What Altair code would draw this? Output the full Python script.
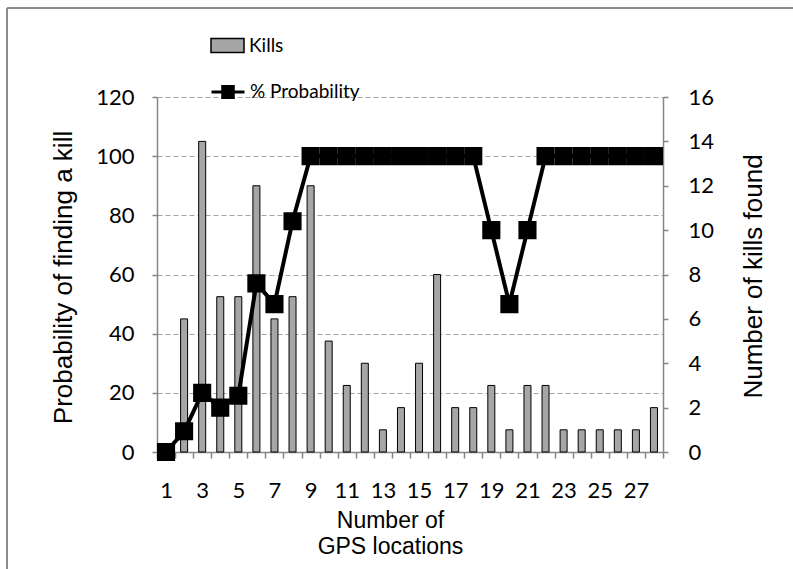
import altair as alt
import pandas as pd

gps = list(range(1, 29))
kills = [0, 6, 14, 7, 7, 12, 6, 7, 12, 5, 3, 4, 1, 2, 4, 8, 2, 2, 3, 1, 3, 3, 1, 1, 1, 1, 1, 2]
prob = [0, 7, 20, 15, 19, 57, 50, 78, 100, 100, 100, 100, 100, 100, 100, 100, 100, 100,
        75, 50, 75, 100, 100, 100, 100, 100, 100, 100]

df = pd.DataFrame({"gps": gps, "kills": kills, "prob": prob,
                   "s1": ["Kills"] * 28, "s2": ["% Probability"] * 28})

TICKF = "Lato"
TITLEF = "Liberation Sans"
AXC = "#868686"

xenc = alt.X("gps:O",
             scale=alt.Scale(paddingInner=0, paddingOuter=0),
             axis=alt.Axis(title=["Number of", "GPS locations"], labelAngle=0,
                           labelExpr="datum.value % 2 == 1 ? datum.label : ''",
                           tickBand="extent", labelFont=TICKF, labelFontSize=22,
                           labelPadding=22, tickSize=6, tickColor=AXC, domainColor=AXC,
                           domainWidth=1.5, tickWidth=1.5,
                           titleFont=TITLEF, titleFontSize=23, titleFontWeight="normal",
                           titleLineHeight=26, titleX=233, titleY=57, titleBaseline="top",
                           grid=False))

bars = alt.Chart(df).mark_bar(size=7, stroke="black", strokeWidth=1).encode(
    x=xenc,
    y=alt.Y("kills:Q", scale=alt.Scale(domain=[0, 16], nice=False),
            axis=alt.Axis(orient="right", values=list(range(0, 17, 2)), title="Number of kills found",
                          labelFont=TICKF, labelFontSize=22, labelPadding=20, tickSize=5,
                          tickColor=AXC, domainColor=AXC, domainWidth=1.5, tickWidth=1.5,
                          titleFont=TITLEF, titleFontSize=26, titleFontWeight="normal",
                          titleAngle=-90, titleX=90, titleY=179, titleAlign="center",
                          titleBaseline="middle", grid=False)),
    fill=alt.Fill("s1:N", scale=alt.Scale(range=["#a6a6a6"]),
                  legend=alt.Legend(title=None, orient="none", legendX=53, legendY=-69,
                                    symbolType="M-1,-0.42H1V0.42H-1Z", symbolSize=1089,
                                    symbolStrokeColor="black", symbolStrokeWidth=1.5,
                                    labelFont=TICKF, labelFontSize=19, labelOffset=4)),
)

line = alt.Chart(df).mark_line(color="black", strokeWidth=4).encode(
    x=xenc,
    y=alt.Y("prob:Q", scale=alt.Scale(domain=[0, 120], nice=False),
            axis=alt.Axis(orient="left", values=list(range(0, 121, 20)),
                          title="Probability of finding a kill",
                          labelFont=TICKF, labelFontSize=22, labelPadding=18, tickSize=5,
                          tickColor=AXC, domainColor=AXC, domainWidth=1.5, tickWidth=1.5,
                          titleFont=TITLEF, titleFontSize=26, titleFontWeight="normal",
                          titleAngle=-90, titleX=-94, titleY=180, titleAlign="center",
                          titleBaseline="middle",
                          grid=True, gridColor="#a6a6a6", gridDash=[5, 3], gridWidth=1)),
)

points = alt.Chart(df).mark_point(shape="square", filled=True, size=260, color="black",
                                  opacity=1).encode(
    x=xenc,
    y=alt.Y("prob:Q", scale=alt.Scale(domain=[0, 120], nice=False), axis=None),
    stroke=alt.Stroke("s2:N", scale=alt.Scale(range=["black"]),
                      legend=alt.Legend(title=None, orient="none", legendX=53, legendY=-23,
                                        symbolType="M-1,0H1M-0.32,-0.34H0.32V0.34H-0.32Z",
                                        symbolSize=1089, symbolFillColor="black",
                                        symbolStrokeColor="black", symbolStrokeWidth=3,
                                        labelFont=TICKF, labelFontSize=19, labelOffset=4)),
)

frame = alt.Chart(df).mark_rect(filled=False, stroke="#8c8c8c", strokeWidth=1).encode(
    x=alt.value(-150), x2=alt.value(700), y=alt.value(-89), y2=alt.value(560))

chart = alt.layer(frame, bars, line, points).resolve_scale(
    y="independent", fill="independent", stroke="independent"
).properties(
    width=506, height=355,
    padding={"left": 157, "top": 97, "right": 130, "bottom": 117},
    autosize=alt.AutoSizeParams(type="none"),
    background="white",
).configure_view(stroke=None)

chart.save("out.html", embed_options={"renderer": "svg", "actions": False})
